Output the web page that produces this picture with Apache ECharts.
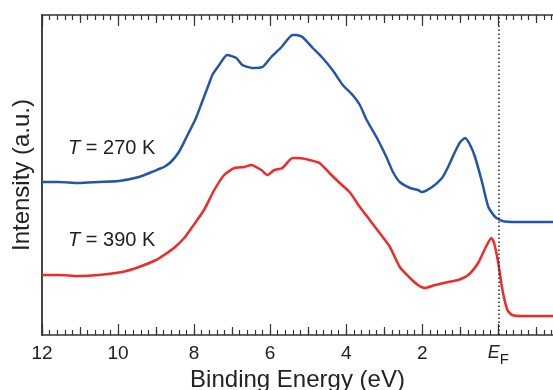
<!DOCTYPE html>
<html>
<head>
<meta charset="utf-8">
<script src="https://cdn.jsdelivr.net/npm/echarts@6/dist/echarts.min.js"></script>
<style>
  html, body { margin: 0; padding: 0; background: #fff; }
  #chart { width: 553px; height: 390px; }
</style>
</head>
<body>
<div id="chart"></div>
<script>
// binding energy (eV) and intensity (a.u.)
const blueEnergy = [12.0, 11.56, 11.04, 10.51, 9.98, 9.45, 9.11, 8.92, 8.79, 8.61, 8.40, 8.21, 7.95, 7.79, 7.60, 7.52, 7.34, 7.13, 6.89, 6.73, 6.47, 6.20, 5.97, 5.70, 5.41, 5.31, 5.15, 4.88, 4.62, 4.36, 4.09, 3.83, 3.64, 3.46, 3.19, 2.93, 2.77, 2.59, 2.32, 2.11, 2.01, 1.74, 1.48, 1.32, 1.14, 1.00, 0.87, 0.74, 0.61, 0.42, 0.26, 0.08, -0.11, -0.45, -1.45];
const blueIntensity = [153, 153, 152, 153, 154, 158, 163, 166, 168, 173, 183, 197, 217, 233, 252, 260, 270, 280, 277, 270, 267, 268, 278, 288, 300, 300, 298, 287, 277, 265, 250, 240, 230, 215, 197, 177, 163, 153, 147, 145, 143, 148, 157, 168, 183, 193, 197, 190, 178, 152, 128, 118, 114, 113, 113];

const redEnergy = [12.0, 11.56, 11.04, 10.51, 9.90, 9.45, 9.00, 8.79, 8.53, 8.26, 8.05, 7.74, 7.47, 7.21, 6.94, 6.68, 6.50, 6.23, 6.07, 5.89, 5.68, 5.41, 5.23, 4.96, 4.70, 4.44, 4.17, 3.91, 3.64, 3.38, 3.12, 2.85, 2.59, 2.32, 2.11, 1.93, 1.66, 1.32, 1.06, 0.79, 0.53, 0.34, 0.18, 0.11, 0.0, -0.11, -0.24, -0.37, -0.63, -1.45];
const redIntensity = [60, 60, 59, 60, 63, 68, 75, 80, 87, 97, 108, 125, 145, 160, 167, 168, 170, 165, 160, 165, 167, 177, 177, 175, 172, 162, 152, 143, 128, 115, 102, 88, 68, 57, 50, 47, 50, 53, 55, 60, 72, 87, 97, 92, 72, 45, 25, 20, 19, 19];

const majorTicks = [12, 10, 8, 6, 4, 2, 0];
const tickLabels = ['12', '10', '8', '6', '4', '2', '{e|E}{f|F}'];
const oddTicks = [11, 9, 7, 5, 3, 1, -1];
const minorTicks = [];
for (let i = -7; i <= 60; i++) minorTicks.push(Math.round(i * 2) / 10);

const seriesNames = ['T = 270 K', 'T = 390 K'];

const font = 'Liberation Sans, Arial, sans-serif';
const ink = '#333';

function zip(xs, ys) { return xs.map((x, i) => [x, ys[i]]); }

function tickAxis(position, values, length, extra) {
  return Object.assign({
    type: 'value',
    position: position,
    min: -1.44,
    max: 12,
    inverse: true,
    axisLine: { show: false },
    axisTick: { show: true, inside: true, length: length, customValues: values, lineStyle: { color: ink, width: 1.2 } },
    axisLabel: { show: false },
    splitLine: { show: false }
  }, extra || {});
}

const chart = echarts.init(document.getElementById('chart'));
chart.setOption({
  animation: false,
  textStyle: { fontFamily: font },
  grid: { left: 42, right: 0, top: 15, bottom: 55, containLabel: false, outerBoundsMode: 'none' },
  xAxis: [
    tickAxis('bottom', majorTicks, 11, {
      axisLine: { show: true, onZero: false, lineStyle: { color: ink, width: 1.5 } },
      axisLabel: {
        show: true,
        customValues: majorTicks,
        margin: 9,
        color: '#222',
        fontSize: 19,
        fontFamily: font,
        formatter: (v) => tickLabels[majorTicks.indexOf(v)],
        rich: {
          e: { fontStyle: 'italic', fontSize: 18, lineHeight: 14, verticalAlign: 'top', fontFamily: font, color: '#222' },
          f: { fontSize: 15, lineHeight: 15, verticalAlign: 'top', fontFamily: font, color: '#222', padding: [8, 0, 0, 0] }
        }
      },
      name: 'Binding Energy (eV)',
      nameLocation: 'middle',
      nameGap: 33,
      nameMoveOverlap: false,
      nameTextStyle: { fontSize: 24, color: '#222', fontFamily: font }
    }),
    tickAxis('bottom', oddTicks, 8),
    tickAxis('bottom', minorTicks, 5),
    tickAxis('top', majorTicks, 11, {
      axisLine: { show: true, onZero: false, lineStyle: { color: ink, width: 1.5 } }
    }),
    tickAxis('top', oddTicks, 8),
    tickAxis('top', minorTicks, 5)
  ],
  yAxis: {
    type: 'value',
    min: 0,
    max: 320,
    axisLine: { show: true, onZero: false, lineStyle: { color: '#444', width: 2 } },
    axisTick: { show: false },
    axisLabel: { show: false },
    splitLine: { show: false },
    name: 'Intensity (a.u.)',
    nameLocation: 'middle',
    nameGap: 8,
    nameTextStyle: { fontSize: 24, color: '#222', fontFamily: font }
  },
  series: [
    {
      name: seriesNames[0],
      type: 'line',
      data: zip(blueEnergy, blueIntensity),
      showSymbol: false,
      smooth: 0.2,
      lineStyle: { color: '#2456a8', width: 2.5 },
      markLine: {
        silent: true,
        symbol: ['none', 'none'],
        label: { show: false },
        lineStyle: { color: '#222', width: 1.5, type: [1.5, 2.5] },
        data: [{ xAxis: 0 }]
      }
    },
    {
      name: seriesNames[1],
      type: 'line',
      data: zip(redEnergy, redIntensity),
      showSymbol: false,
      smooth: 0.2,
      lineStyle: { color: '#ee2b2b', width: 2.5 }
    }
  ],
  graphic: [
    {
      type: 'text', left: 68, top: 138,
      style: {
        text: '{i|T} = 270 K', fill: '#222', font: '20px ' + font,
        rich: { i: { fontStyle: 'italic', fontSize: 20, fontFamily: font, fill: '#222' } }
      }
    },
    {
      type: 'text', left: 68, top: 230,
      style: {
        text: '{i|T} = 390 K', fill: '#222', font: '20px ' + font,
        rich: { i: { fontStyle: 'italic', fontSize: 20, fontFamily: font, fill: '#222' } }
      }
    }
  ]
});
</script>
</body>
</html>
